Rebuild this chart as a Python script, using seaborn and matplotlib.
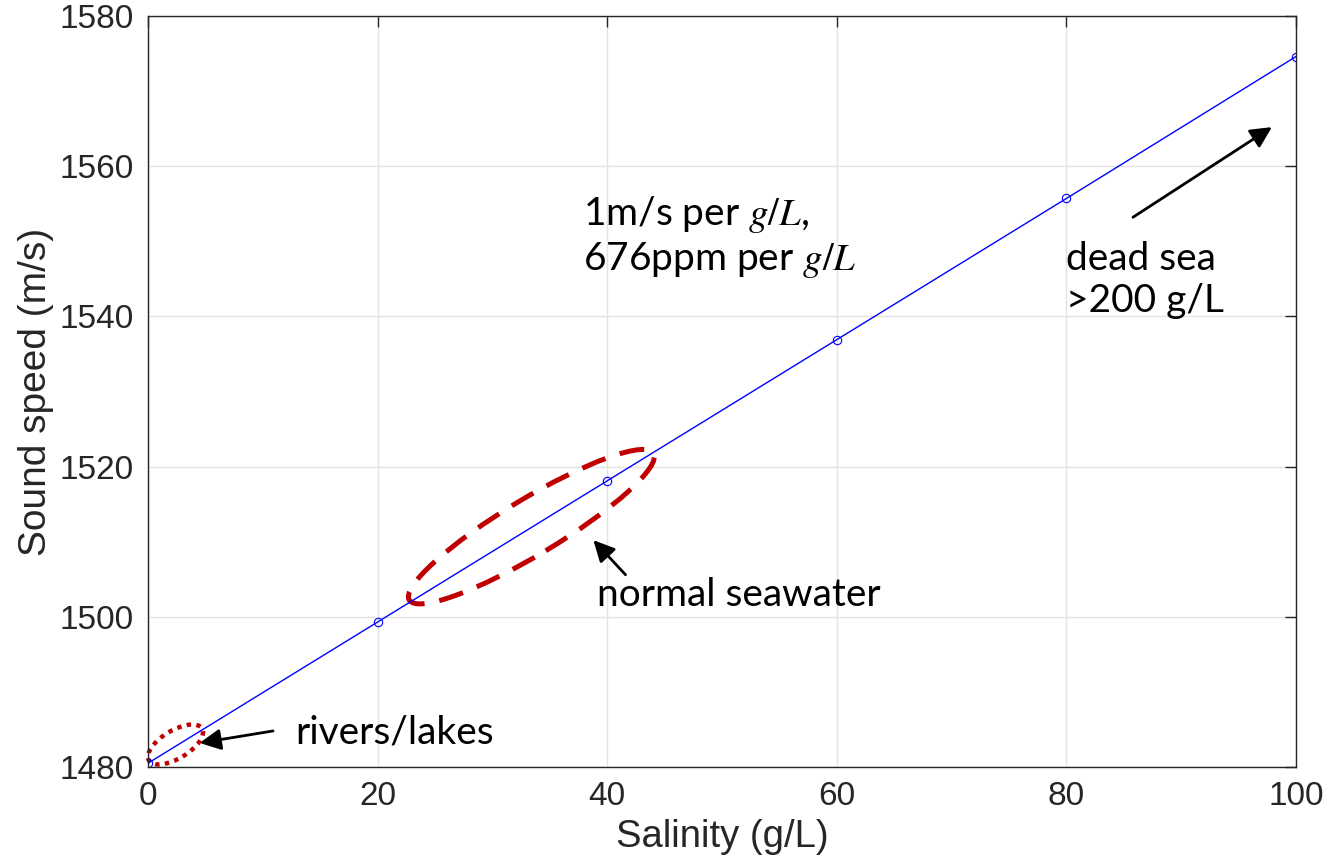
import matplotlib
matplotlib.use('Agg')
import matplotlib.pyplot as plt
import seaborn as sb
import pandas as pd
import numpy as np
from matplotlib.patches import Ellipse
from matplotlib.transforms import ScaledTranslation

salinity = [0, 20, 40, 60, 80, 100]
sound_speed = [1480.5, 1499.3, 1518.1, 1536.9, 1555.7, 1574.6]
x_ticks = [0, 20, 40, 60, 80, 100]
y_ticks = [1480, 1500, 1520, 1540, 1560, 1580]

frame = pd.DataFrame({'salinity': salinity, 'speed': sound_speed})

sb.set_style('white')
plt.rcParams['font.family'] = ['Liberation Sans', 'DejaVu Sans']
plt.rcParams['mathtext.fontset'] = 'stix'

fig = plt.figure(figsize=(13.28, 8.59), dpi=100)
ax = fig.add_axes([0.1114, 0.1071, 0.8645, 0.8743])

sb.lineplot(x='salinity', y='speed', data=frame, ax=ax,
            color='#0000ff', linewidth=1.0, marker='o', markersize=6,
            markerfacecolor='none', markeredgecolor='#0000ff',
            markeredgewidth=0.8)

ax.set_xlim(0, 100)
ax.set_ylim(1480, 1580)
ax.set_xticks(x_ticks)
ax.set_yticks(y_ticks)
ax.grid(True, color='#e3e3e3', linewidth=1)
ax.tick_params(direction='in', length=8, width=1, top=True, right=True,
               labelsize=24, colors='#262626', pad=10)
for s in ax.spines.values():
    s.set_color('#262626')
    s.set_linewidth(1)
ax.set_xlabel('Salinity (g/L)', fontsize=27.5, color='#262626', labelpad=5)
ax.set_ylabel('Sound speed (m/s)', fontsize=28, color='#262626', labelpad=4)

# annotations
tfont = dict(family=['Lato', 'DejaVu Sans'], fontsize=28, color='black')
ax.text(37.9, 1550.6, '1m/s per $g/L$,\n676ppm per $g/L$', ha='left',
        va='center', linespacing=1.15, **tfont)
ax.text(80.0, 1544.8, 'dead sea\n>200 g/L', ha='left', va='center',
        linespacing=1.2, **tfont)
ax.text(39.1, 1502.9, 'normal seawater', ha='left', va='center', **tfont)
ax.text(12.8, 1484.6, 'rivers/lakes', ha='left', va='center', **tfont)

arrow = dict(arrowstyle='-|>', color='black', lw=2, mutation_scale=32,
             shrinkA=0, shrinkB=0)
ax.annotate('', xy=(4.5, 1483.2), xytext=(10.9, 1484.8), arrowprops=arrow)
ax.annotate('', xy=(38.8, 1510.2), xytext=(41.6, 1505.6), arrowprops=arrow)
ax.annotate('', xy=(97.9, 1565.2), xytext=(85.8, 1553.2), arrowprops=arrow)

# ellipses drawn in inch units around data centres
def ring(cx, cy, w, h, ang, **kw):
    tr = fig.dpi_scale_trans + ScaledTranslation(cx, cy, ax.transData)
    e = Ellipse((0, 0), w, h, angle=ang, transform=tr, fill=False,
                clip_on=False, **kw)
    ax.add_patch(e)

ring(33.4, 1512.0, 2.85, 0.56, 31, edgecolor='#c00000', linewidth=3.6,
     linestyle=(0, (5, 3)))
ring(2.4, 1483.0, 0.62, 0.28, 31, edgecolor='#c00000', linewidth=3.2,
     linestyle=(0, (1, 1.2)))

plt.savefig('out.png', dpi=100)
